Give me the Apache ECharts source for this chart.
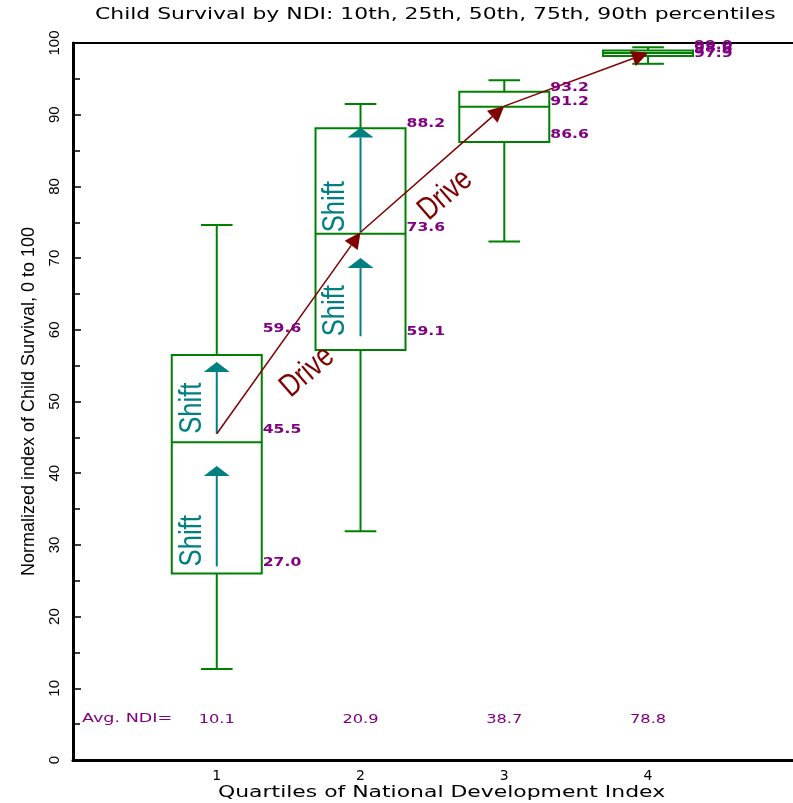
<!DOCTYPE html>
<html>
<head>
<meta charset="utf-8">
<script src="https://cdn.jsdelivr.net/npm/echarts@6/dist/echarts.min.js"></script>
<style>
html, body { margin: 0; padding: 0; background: #fff; }
#main { width: 793px; height: 803px; }
</style>
</head>
<body>
<div id="main"></div>
<script>
// percentiles of child survival per NDI quartile
var quartiles = [1, 2, 3, 4];
var whiskerLow = [12.7, 31.9, 72.3, 97.1];   // 10th
var q1 = [26.0, 57.2, 86.2, 98.2];           // 25th
var medians = [44.3, 73.4, 91.1, 98.6];      // 50th
var q3 = [56.5, 88.1, 93.2, 98.95];          // 75th
var whiskerHigh = [74.6, 91.5, 94.8, 99.4];  // 90th

// purple value labels beside each box
var topLabels = [59.6, 88.2, 93.2, 99.0];
var midLabels = [45.5, 73.6, 91.2, 98.6];
var lowLabels = [27.0, 59.1, 86.6, 97.9];

var avgNdi = [10.1, 20.9, 38.7, 78.8];

// "Shift" arrows (quartile, from, to)
var shiftX = [1, 1, 2, 2];
var shiftFrom = [27.0, 45.5, 59.1, 73.6];
var shiftTo = [41.0, 55.5, 70.0, 88.2];

// "Drive" text anchors
var driveTextX = [1.63, 2.59];
var driveTextY = [54.1, 78.8];

var boxColor = '#008000';
var purple = '#800080';
var teal = '#008080';
var driveColor = '#800000';
var sans = '"Liberation Sans", sans-serif';

var chart = echarts.init(document.getElementById('main'));

function renderBox(params, api) {
  var x = api.value(0);
  var c = function (v) { return api.coord([x, v]); };
  var lo = c(api.value(1)), b1 = c(api.value(2)), md = c(api.value(3));
  var b3 = c(api.value(4)), hi = c(api.value(5));
  var half = api.size([0.313, 0])[0];
  var cap = api.size([0.11, 0])[0];
  var cx = md[0];
  var st = { stroke: boxColor, lineWidth: 2, fill: 'none' };
  return {
    type: 'group',
    children: [
      { type: 'line', shape: { x1: cx, y1: lo[1], x2: cx, y2: b1[1] }, style: st },
      { type: 'line', shape: { x1: cx, y1: b3[1], x2: cx, y2: hi[1] }, style: st },
      { type: 'line', shape: { x1: cx - cap, y1: lo[1], x2: cx + cap, y2: lo[1] }, style: st },
      { type: 'line', shape: { x1: cx - cap, y1: hi[1], x2: cx + cap, y2: hi[1] }, style: st },
      { type: 'rect', shape: { x: cx - half, y: b3[1], width: 2 * half, height: b1[1] - b3[1] }, style: st },
      { type: 'line', shape: { x1: cx - half, y1: md[1], x2: cx + half, y2: md[1] }, style: st }
    ]
  };
}

function renderShift(params, api) {
  var s = api.coord([api.value(0), api.value(1)]);
  var t = api.coord([api.value(0), api.value(2)]);
  var headLen = 10, headHalf = 13;
  return {
    type: 'group',
    children: [
      { type: 'line', shape: { x1: s[0], y1: s[1], x2: t[0], y2: t[1] + headLen },
        style: { stroke: teal, lineWidth: 2 } },
      { type: 'polygon', shape: { points: [[t[0], t[1]], [t[0] - headHalf, t[1] + headLen], [t[0] + headHalf, t[1] + headLen]] },
        style: { fill: teal } },
      { type: 'text', x: s[0] - 25, y: s[1], rotation: Math.PI / 2, scaleX: 0.8,
        style: { text: 'Shift', fill: teal, font: '32px ' + sans, align: 'left', verticalAlign: 'middle' } }
    ]
  };
}

function renderDrive(params, api) {
  var a = api.coord([api.value(0), api.value(1)]);
  var b = api.coord([api.value(2), api.value(3)]);
  var dx = b[0] - a[0], dy = b[1] - a[1];
  var len = Math.sqrt(dx * dx + dy * dy);
  var ux = dx / len, uy = dy / len;
  var headLen = 16, headHalf = 8;
  var bx = b[0] - ux * headLen, by = b[1] - uy * headLen;
  return {
    type: 'group',
    children: [
      { type: 'line', shape: { x1: a[0], y1: a[1], x2: bx, y2: by },
        style: { stroke: driveColor, lineWidth: 1.5 } },
      { type: 'polygon', shape: { points: [[b[0], b[1]], [bx - uy * headHalf, by + ux * headHalf], [bx + uy * headHalf, by - ux * headHalf]] },
        style: { fill: driveColor } }
    ]
  };
}

function renderValueLabel(params, api) {
  var p = api.coord([api.value(0), api.value(1)]);
  return {
    type: 'text', x: p[0] + 46, y: p[1] - 4, scaleX: 1.3,
    style: { text: api.value(1).toFixed(1), fill: purple, font: 'bold 12px "DejaVu Sans"', align: 'left', verticalAlign: 'middle' }
  };
}

function renderDriveText(params, api) {
  var p = api.coord([api.value(0), api.value(1)]);
  return {
    type: 'text', x: p[0], y: p[1], rotation: 41 * Math.PI / 180, scaleX: 0.8,
    style: { text: 'Drive', fill: driveColor, font: '32px ' + sans, align: 'center', verticalAlign: 'middle' }
  };
}

function renderNdi(params, api) {
  var p = api.coord([api.value(0), 5.7]);
  return {
    type: 'text', x: p[0], y: p[1], scaleX: 1.25,
    style: { text: api.value(1).toFixed(1), fill: purple, font: '13px "DejaVu Sans"', align: 'center', verticalAlign: 'middle' }
  };
}

var boxData = quartiles.map(function (q, i) {
  return [q, whiskerLow[i], q1[i], medians[i], q3[i], whiskerHigh[i]];
});
var labelData = [];
quartiles.forEach(function (q, i) {
  labelData.push([q, topLabels[i]], [q, midLabels[i]], [q, lowLabels[i]]);
});
var shiftData = shiftX.map(function (x, i) { return [x, shiftFrom[i], shiftTo[i]]; });
var driveData = [];
for (var i = 0; i < quartiles.length - 1; i++) {
  driveData.push([quartiles[i], midLabels[i], quartiles[i + 1], midLabels[i + 1]]);
}
var driveTextData = driveTextX.map(function (x, i) { return [x, driveTextY[i]]; });
var ndiData = quartiles.map(function (q, i) { return [q, avgNdi[i]]; });

var option = {
  backgroundColor: '#fff',
  animation: false,
  grid: {
    left: 73, width: 726, top: 43, bottom: 43, outerBoundsMode: 'none', containLabel: false,
    show: true, borderColor: '#000', borderWidth: 2
  },
  graphic: [
    { type: 'text', x: 95, y: 8, scaleX: 1.46,
      style: { text: 'Child Survival by NDI: 10th, 25th, 50th, 75th, 90th percentiles', fill: '#000', font: '15px "DejaVu Sans"' } },
    { type: 'text', x: 218, y: 786, scaleX: 1.46,
      style: { text: 'Quartiles of National Development Index', fill: '#000', font: '15px "DejaVu Sans"' } },
    { type: 'text', x: 82, y: 719, scaleX: 1.35,
      style: { text: 'Avg. NDI=', fill: purple, font: '13px "DejaVu Sans"', verticalAlign: 'middle' } }
  ],
  xAxis: {
    type: 'value', min: 0, max: 5.05, interval: 1,
    axisLine: { lineStyle: { color: '#000', width: 3 } },
    axisTick: { show: false },
    splitLine: { show: false },
    axisLabel: {
      color: '#000', fontSize: 14, fontFamily: 'DejaVu Sans', margin: 9,
      formatter: function (v) { return (v >= 1 && v <= 4) ? String(v) : ''; }
    }
  },
  yAxis: [{
    type: 'value', min: 0, max: 100, interval: 10,
    name: 'Normalized index of Child Survival, 0 to 100',
    nameLocation: 'middle', nameGap: 35,
    nameTextStyle: { color: '#000', fontSize: 18, fontFamily: sans },
    axisLine: { lineStyle: { color: '#000', width: 3 } },
    axisTick: { inside: true, length: 8, lineStyle: { color: '#000', width: 1.5 } },
    minorTick: { show: true, splitNumber: 2, length: 7, lineStyle: { color: '#000', width: 1.5 } },
    splitLine: { show: false },
    axisLabel: { color: '#000', fontSize: 15, fontFamily: sans, rotate: 90, margin: 11 }
  }, {
    type: 'value', min: 0, max: 100, interval: 10, position: 'right',
    axisLine: { show: true, lineStyle: { color: '#000', width: 3 } },
    axisTick: { inside: true, length: 6, lineStyle: { color: '#000', width: 1.5 } },
    minorTick: { show: true, splitNumber: 2, length: 6, lineStyle: { color: '#000', width: 1.5 } },
    splitLine: { show: false },
    axisLabel: { show: false }
  }],
  series: [
    { type: 'custom', name: 'boxes', renderItem: renderBox, data: boxData, encode: { x: 0, y: [1, 2, 3, 4, 5] } },
    { type: 'custom', name: 'shift', renderItem: renderShift, data: shiftData, encode: { x: 0, y: [1, 2] } },
    { type: 'custom', name: 'drive', renderItem: renderDrive, data: driveData, encode: { x: [0, 2], y: [1, 3] } },
    { type: 'custom', name: 'labels', renderItem: renderValueLabel, data: labelData, encode: { x: 0, y: 1 } },
    { type: 'custom', name: 'driveText', renderItem: renderDriveText, data: driveTextData, encode: { x: 0, y: 1 } },
    { type: 'custom', name: 'ndi', renderItem: renderNdi, data: ndiData, encode: { x: 0 } }
  ]
};

chart.setOption(option);
</script>
</body>
</html>
